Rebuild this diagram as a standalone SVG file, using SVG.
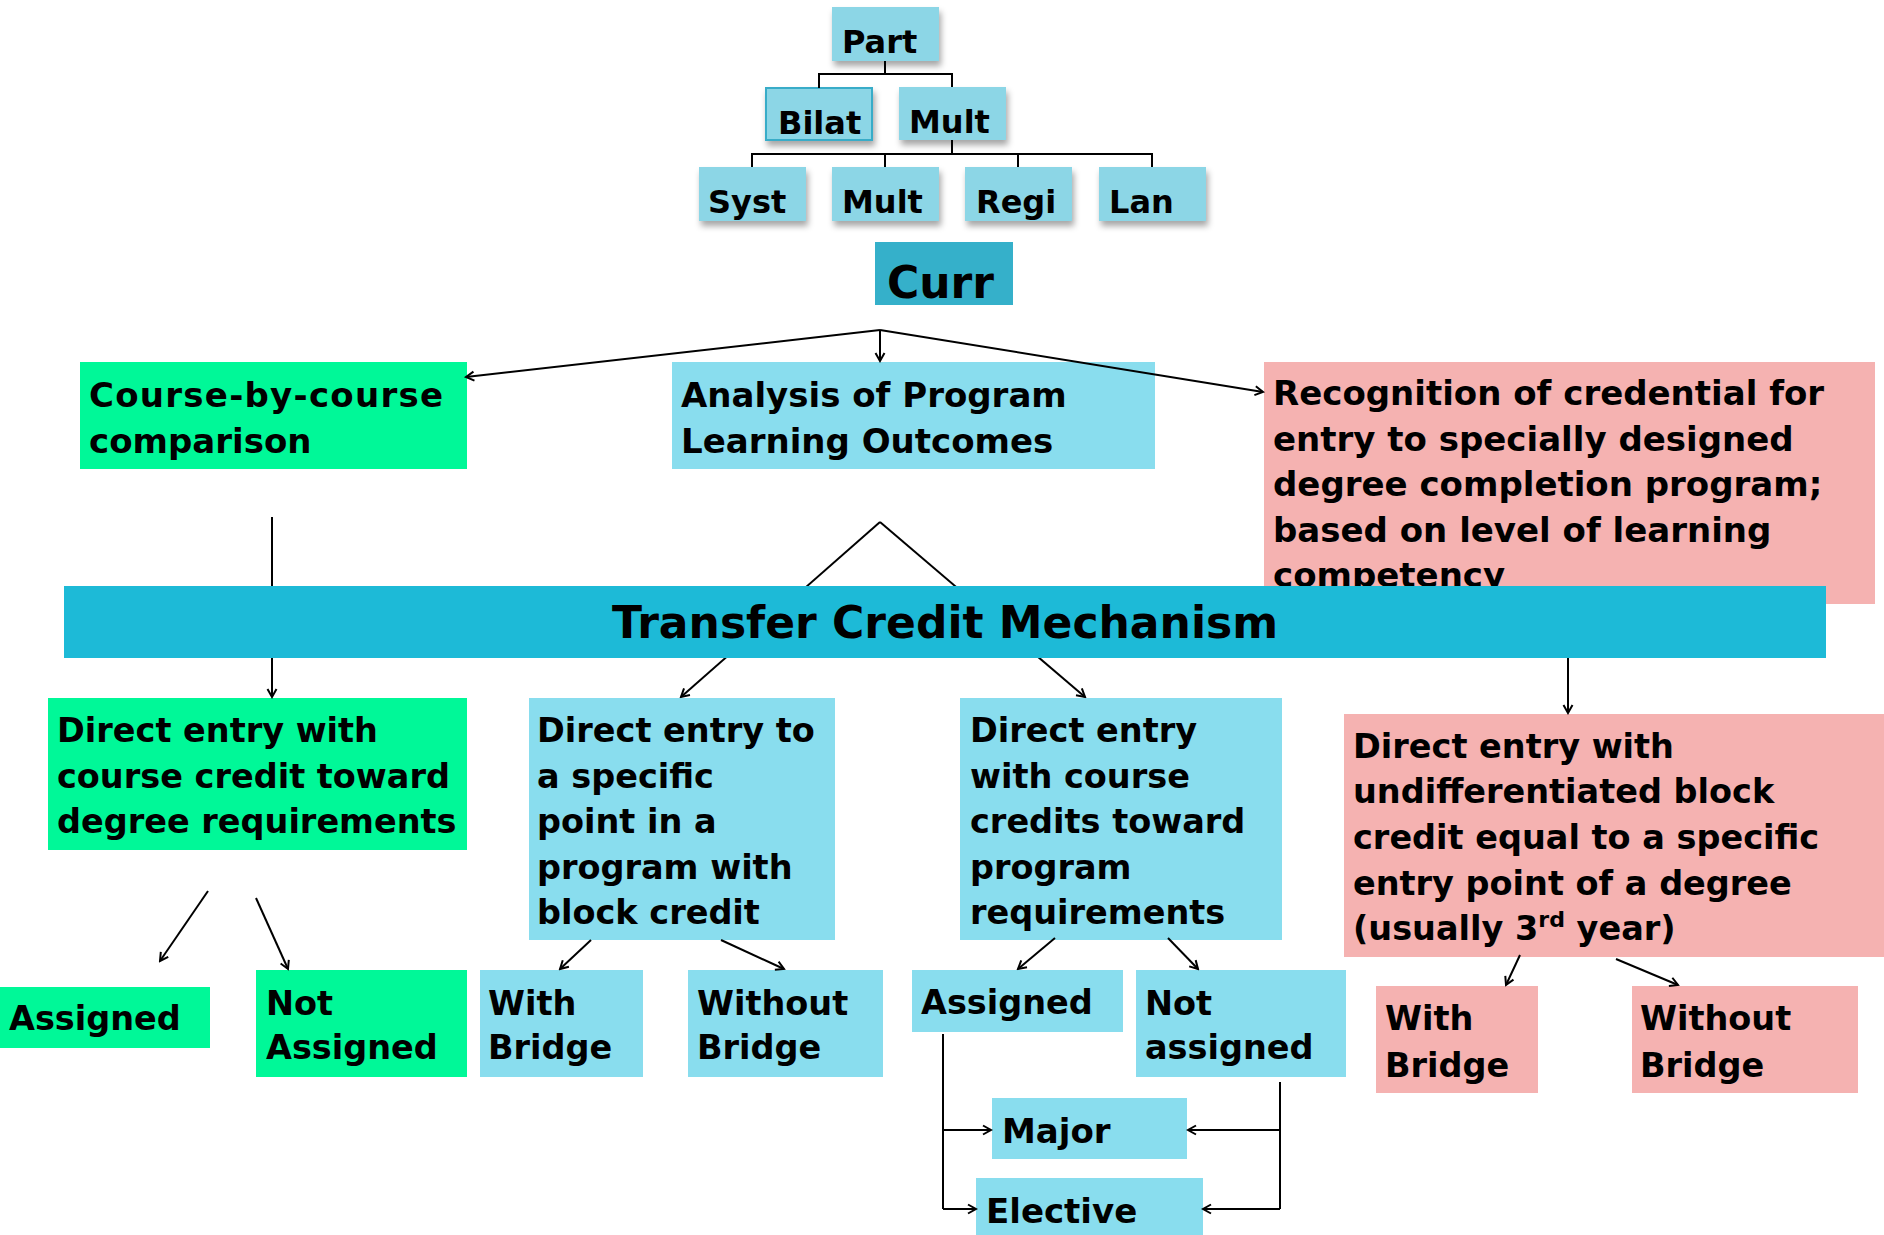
<svg xmlns="http://www.w3.org/2000/svg" width="1884" height="1235" viewBox="0 0 1884 1235">
<style>
text{font-family:"DejaVu Sans","Liberation Sans",sans-serif;font-weight:bold;fill:#000}
.t{font-size:32px}
.m{font-size:34px}
.s{font-size:33.5px}
.tree{fill:#8cd6e6;filter:url(#sh)}
.blue{fill:#89ddee}
.green{fill:#00f898}
.pink{fill:#f5b2b1}
.ln{fill:none;stroke:#000;stroke-width:2}
.ar{fill:none;stroke:#000;stroke-width:2;marker-end:url(#arr)}
</style>
<defs>
<filter id="sh" x="-20%" y="-20%" width="150%" height="170%">
<feDropShadow dx="2" dy="5" stdDeviation="3" flood-color="#000" flood-opacity="0.35"/>
</filter>
<marker id="arr" markerWidth="12" markerHeight="12" refX="10" refY="6" orient="auto" markerUnits="userSpaceOnUse">
<path d="M2,1.5 L10,6 L2,10.5" fill="none" stroke="#000" stroke-width="2"/>
</marker>
</defs>
<rect width="1884" height="1235" fill="#fff"/>

<g id="part"><rect class="tree" x="832" y="7" width="107" height="54"/><text class="t" x="842" y="53">Part</text></g>
<g id="bilat"><rect class="tree" x="766" y="88" width="106" height="52" stroke="#38acc8" stroke-width="2"/><text class="t" x="778" y="134">Bilat</text></g>
<g id="mult1"><rect class="tree" x="899" y="87" width="107" height="53"/><text class="t" x="909" y="133">Mult</text></g>
<g id="syst"><rect class="tree" x="699" y="167" width="107" height="54"/><text class="t" x="708" y="213">Syst</text></g>
<g id="mult2"><rect class="tree" x="832" y="167" width="107" height="54"/><text class="t" x="842" y="213">Mult</text></g>
<g id="regi"><rect class="tree" x="965" y="167" width="107" height="54"/><text class="t" x="976" y="213">Regi</text></g>
<g id="lan"><rect class="tree" x="1099" y="167" width="107" height="54"/><text class="t" x="1109" y="213">Lan</text></g>
<g id="curr"><rect x="875" y="242" width="138" height="63" fill="#35b0ca"/><text x="887" y="298" font-size="44">Curr</text></g>

<g id="course"><rect class="green" x="80" y="362" width="387" height="107"/><text class="m" x="89" y="407" textLength="354">Course-by-course</text><text class="m" x="89" y="453">comparison</text></g>
<g id="analysis"><rect class="blue" x="672" y="362" width="483" height="107"/><text class="m" x="681" y="407">Analysis of Program</text><text class="m" x="681" y="453">Learning Outcomes</text></g>
<g id="recognition"><rect class="pink" x="1264" y="362" width="611" height="242"/>
<text class="m" x="1273" y="405">Recognition of credential for</text>
<text class="m" x="1273" y="451">entry to specially designed</text>
<text class="m" x="1273" y="496">degree completion program;</text>
<text class="m" x="1273" y="542">based on level of learning</text>
<text class="m" x="1273" y="587">competency</text></g>

<g id="de-course"><rect class="green" x="48" y="698" width="419" height="152"/>
<text class="s" x="57" y="742">Direct entry with</text>
<text class="s" x="57" y="788">course credit toward</text>
<text class="s" x="57" y="833">degree requirements</text></g>
<g id="de-point"><rect class="blue" x="529" y="698" width="306" height="242"/>
<text class="s" x="537" y="742">Direct entry to</text>
<text class="s" x="537" y="788">a specific</text>
<text class="s" x="537" y="833">point in a</text>
<text class="s" x="537" y="879">program with</text>
<text class="s" x="537" y="924">block credit</text></g>
<g id="de-program"><rect class="blue" x="960" y="698" width="322" height="242"/>
<text class="s" x="970" y="742">Direct entry</text>
<text class="s" x="970" y="788">with course</text>
<text class="s" x="970" y="833">credits toward</text>
<text class="s" x="970" y="879">program</text>
<text class="s" x="970" y="924">requirements</text></g>
<g id="de-block"><rect class="pink" x="1344" y="714" width="540" height="243"/>
<text class="s" x="1353" y="758">Direct entry with</text>
<text class="s" x="1353" y="803">undifferentiated block</text>
<text class="s" x="1353" y="849">credit equal to a specific</text>
<text class="s" x="1353" y="895">entry point of a degree</text>
<text class="s" x="1353" y="940">(usually 3<tspan font-size="22" dy="-13">rd</tspan><tspan dy="13"> year)</tspan></text></g>

<g id="assigned-g"><rect class="green" x="0" y="987" width="210" height="61"/><text class="s" x="9" y="1030">Assigned</text></g>
<g id="notassigned-g"><rect class="green" x="256" y="970" width="211" height="107"/><text class="s" x="266" y="1015">Not</text><text class="s" x="266" y="1059">Assigned</text></g>
<g id="withbridge-b"><rect class="blue" x="480" y="970" width="163" height="107"/><text class="s" x="488" y="1015">With</text><text class="s" x="488" y="1059">Bridge</text></g>
<g id="withoutbridge-b"><rect class="blue" x="688" y="970" width="195" height="107"/><text class="s" x="697" y="1015">Without</text><text class="s" x="697" y="1059">Bridge</text></g>
<g id="assigned-b"><rect class="blue" x="912" y="970" width="211" height="62"/><text class="s" x="921" y="1014">Assigned</text></g>
<g id="notassigned-b"><rect class="blue" x="1136" y="970" width="210" height="107"/><text class="s" x="1145" y="1015">Not</text><text class="s" x="1145" y="1059">assigned</text></g>
<g id="withbridge-p"><rect class="pink" x="1376" y="986" width="162" height="107"/><text class="s" x="1385" y="1030">With</text><text class="s" x="1385" y="1077">Bridge</text></g>
<g id="withoutbridge-p"><rect class="pink" x="1632" y="986" width="226" height="107"/><text class="s" x="1640" y="1030">Without</text><text class="s" x="1640" y="1077">Bridge</text></g>
<g id="major"><rect class="blue" x="992" y="1098" width="195" height="61"/><text class="m" x="1002" y="1143">Major</text></g>
<g id="elective"><rect class="blue" x="976" y="1178" width="227" height="57"/><text class="m" x="986" y="1223">Elective</text></g>

<g id="connectors">
<polyline class="ln" points="885,61 885,74"/>
<polyline class="ln" points="819,88 819,74 952,74 952,87"/>
<polyline class="ln" points="952,140 952,154"/>
<polyline class="ln" points="752,167 752,154 1152,154 1152,167"/>
<polyline class="ln" points="885,154 885,167"/>
<polyline class="ln" points="1018,154 1018,167"/>
<line class="ar" x1="880" y1="330" x2="466" y2="377"/>
<line class="ar" x1="880" y1="330" x2="880" y2="361"/>
<line class="ar" x1="880" y1="330" x2="1263" y2="392"/>
<line class="ar" x1="272" y1="517" x2="272" y2="697"/>
<line class="ar" x1="880" y1="522" x2="681" y2="697"/>
<line class="ar" x1="880" y1="522" x2="1085" y2="697"/>
<line class="ar" x1="1568" y1="658" x2="1568" y2="713"/>
<line class="ar" x1="208" y1="891" x2="160" y2="961"/>
<line class="ar" x1="256" y1="898" x2="288" y2="969"/>
<line class="ar" x1="591" y1="940" x2="560" y2="969"/>
<line class="ar" x1="721" y1="940" x2="784" y2="969"/>
<line class="ar" x1="1055" y1="938" x2="1018" y2="969"/>
<line class="ar" x1="1168" y1="938" x2="1198" y2="969"/>
<line class="ar" x1="1520" y1="955" x2="1506" y2="985"/>
<line class="ar" x1="1616" y1="959" x2="1678" y2="985"/>
<polyline class="ln" points="943,1034 943,1209"/>
<line class="ar" x1="943" y1="1130" x2="991" y2="1130"/>
<line class="ar" x1="943" y1="1209" x2="976" y2="1209"/>
<polyline class="ln" points="1280,1082 1280,1209"/>
<line class="ar" x1="1280" y1="1130" x2="1188" y2="1130"/>
<line class="ar" x1="1280" y1="1209" x2="1203" y2="1209"/>
</g>

<g id="transfer"><rect x="64" y="586" width="1762" height="72" fill="#1dbad7"/><text x="945" y="638" font-size="44" text-anchor="middle">Transfer Credit Mechanism</text></g>
</svg>
